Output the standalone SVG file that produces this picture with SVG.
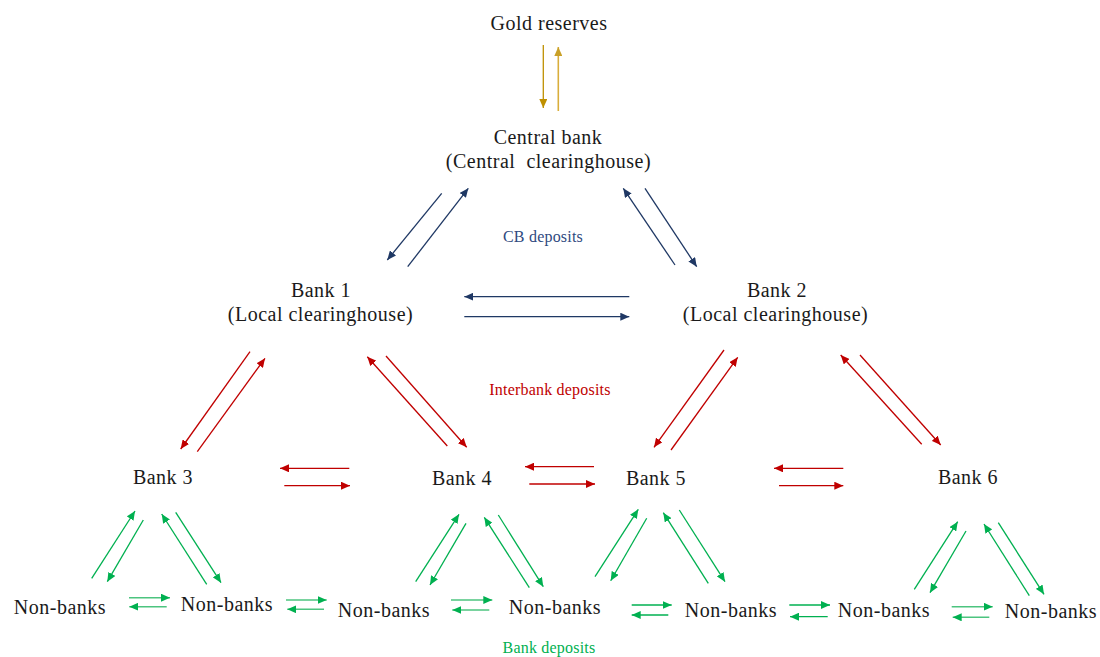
<svg xmlns="http://www.w3.org/2000/svg" width="1100" height="657" viewBox="0 0 1100 657">
<style>
.lbl{font-family:"Liberation Serif","Times New Roman",serif;font-size:20px;fill:#1a1a1a;text-anchor:middle;letter-spacing:0.5px;white-space:pre}
.sm{font-family:"Liberation Serif","Times New Roman",serif;font-size:16px;text-anchor:middle;letter-spacing:0.2px}
.n{stroke:#1F3864;stroke-width:1.3;fill:none;marker-end:url(#an)}
.r{stroke:#C00000;stroke-width:1.3;fill:none;marker-end:url(#ar)}
.g{stroke:#00B050;stroke-width:1.3;fill:none;marker-end:url(#ag)}
.gl{stroke:#4CC47F;stroke-width:1.6;fill:none;marker-end:url(#ag)}
.au{stroke:#BF9000;stroke-width:1.3;fill:none;marker-end:url(#aud)}
.au2{stroke:#D9AE3C;stroke-width:1.6;fill:none;marker-end:url(#au2)}
</style>
<defs>
<marker id="an" markerUnits="userSpaceOnUse" markerWidth="10" markerHeight="8" refX="9" refY="4" orient="auto"><path d="M0,0 L9,4 L0,8 z" fill="#1F3864"/></marker>
<marker id="ar" markerUnits="userSpaceOnUse" markerWidth="10" markerHeight="8" refX="9" refY="4" orient="auto"><path d="M0,0 L9,4 L0,8 z" fill="#C00000"/></marker>
<marker id="ag" markerUnits="userSpaceOnUse" markerWidth="10" markerHeight="8" refX="9" refY="4" orient="auto"><path d="M0,0 L9,4 L0,8 z" fill="#00B050"/></marker>
<marker id="aud" markerUnits="userSpaceOnUse" markerWidth="10" markerHeight="8" refX="9" refY="4" orient="auto"><path d="M0,0 L9,4 L0,8 z" fill="#BF9000"/></marker>
<marker id="au2" markerUnits="userSpaceOnUse" markerWidth="10" markerHeight="8" refX="9" refY="4" orient="auto"><path d="M0,0 L9,4 L0,8 z" fill="#C9A027"/></marker>
</defs>
<rect width="1100" height="657" fill="#ffffff"/>

<g id="connectors">
  <!-- gold -->
  <line class="au" x1="543.3" y1="45" x2="543.3" y2="108"/>
  <line class="au2" x1="558.3" y1="111" x2="558.3" y2="47"/>
  <!-- CB deposits -->
  <line class="n" x1="441.7" y1="193.3" x2="387.3" y2="260"/>
  <line class="n" x1="407.7" y1="266.7" x2="468.3" y2="188.3"/>
  <line class="n" x1="675" y1="265" x2="623.3" y2="188.3"/>
  <line class="n" x1="645" y1="188.3" x2="696.7" y2="266.7"/>
  <line class="n" x1="629.3" y1="296.7" x2="464.3" y2="296.7"/>
  <line class="n" x1="464.3" y1="316.7" x2="629.3" y2="316.7"/>
  <!-- interbank -->
  <line class="r" x1="250" y1="351.7" x2="180.7" y2="449"/>
  <line class="r" x1="197.3" y1="451.7" x2="265" y2="358.3"/>
  <line class="r" x1="447.3" y1="446" x2="367.3" y2="356.7"/>
  <line class="r" x1="386" y1="356" x2="466.7" y2="447.3"/>
  <line class="r" x1="724" y1="350" x2="654" y2="447.3"/>
  <line class="r" x1="671" y1="450" x2="737.7" y2="357.3"/>
  <line class="r" x1="921.7" y1="444.3" x2="840.7" y2="355"/>
  <line class="r" x1="860" y1="355" x2="940.7" y2="445"/>
  <line class="r" x1="349.3" y1="468.3" x2="280" y2="468.3"/>
  <line class="r" x1="284.3" y1="485.7" x2="350" y2="485.7"/>
  <line class="r" x1="594" y1="466.7" x2="525" y2="466.7"/>
  <line class="r" x1="529.3" y1="484" x2="595" y2="484"/>
  <line class="r" x1="843.3" y1="468.3" x2="774" y2="468.3"/>
  <line class="r" x1="779" y1="485.7" x2="843.3" y2="485.7"/>
  <!-- bank deposits: bank 3 -->
  <line class="g" x1="91.7" y1="578.3" x2="135" y2="511"/>
  <line class="g" x1="143.3" y1="520" x2="107.3" y2="581.7"/>
  <line class="g" x1="206.7" y1="584.3" x2="161.7" y2="514"/>
  <line class="g" x1="175.7" y1="512.3" x2="221" y2="582.7"/>
  <!-- bank 4 -->
  <line class="g" x1="415.7" y1="581.7" x2="459" y2="514.3"/>
  <line class="g" x1="466" y1="523.3" x2="430" y2="585"/>
  <line class="g" x1="529.3" y1="587.7" x2="484.3" y2="517.3"/>
  <line class="g" x1="498.3" y1="515" x2="543.3" y2="586.7"/>
  <!-- bank 5 -->
  <line class="g" x1="595" y1="576.7" x2="638.3" y2="509.3"/>
  <line class="g" x1="646.7" y1="518.3" x2="610.7" y2="580.7"/>
  <line class="g" x1="708.3" y1="583.3" x2="663.3" y2="512.7"/>
  <line class="g" x1="679.3" y1="510" x2="725" y2="581.7"/>
  <!-- bank 6 -->
  <line class="g" x1="914.3" y1="589.3" x2="957.7" y2="521.7"/>
  <line class="g" x1="966" y1="531" x2="930" y2="592.7"/>
  <line class="g" x1="1029.3" y1="595.7" x2="984" y2="524"/>
  <line class="g" x1="998.3" y1="522.7" x2="1044" y2="594.3"/>
  <!-- non-bank horizontals -->
  <line class="gl" x1="129" y1="597.7" x2="170" y2="597.7"/>
  <line class="gl" x1="166.7" y1="606.7" x2="129.3" y2="606.7"/>
  <line class="gl" x1="286" y1="600" x2="326.7" y2="600"/>
  <line class="gl" x1="324" y1="609.3" x2="287.3" y2="609.3"/>
  <line class="gl" x1="451" y1="600" x2="492.3" y2="600"/>
  <line class="gl" x1="489.3" y1="610" x2="452.3" y2="610"/>
  <line class="g" x1="631.7" y1="605" x2="671.7" y2="605"/>
  <line class="g" x1="668.3" y1="615" x2="631.7" y2="615"/>
  <line class="g" x1="789.3" y1="605" x2="830" y2="605"/>
  <line class="g" x1="827.7" y1="616.7" x2="790" y2="616.7"/>
  <line class="gl" x1="951.7" y1="606.7" x2="992.7" y2="606.7"/>
  <line class="gl" x1="989.3" y1="617.3" x2="952.7" y2="617.3"/>
</g>

<g id="gold"><text class="lbl" x="549" y="30">Gold reserves</text></g>
<g id="central-bank">
  <text class="lbl" x="548" y="144">Central bank</text>
  <text class="lbl" x="548.5" y="168" xml:space="preserve">(Central  clearinghouse)</text>
</g>
<g id="bank1">
  <text class="lbl" x="321" y="297">Bank 1</text>
  <text class="lbl" x="320.5" y="321">(Local clearinghouse)</text>
</g>
<g id="bank2">
  <text class="lbl" x="777" y="297">Bank 2</text>
  <text class="lbl" x="775.5" y="321">(Local clearinghouse)</text>
</g>
<g id="bank3"><text class="lbl" x="163" y="484">Bank 3</text></g>
<g id="bank4"><text class="lbl" x="462" y="485">Bank 4</text></g>
<g id="bank5"><text class="lbl" x="656" y="485">Bank 5</text></g>
<g id="bank6"><text class="lbl" x="968" y="484">Bank 6</text></g>
<g id="nb1"><text class="lbl" x="60" y="614">Non-banks</text></g>
<g id="nb2"><text class="lbl" x="227" y="611">Non-banks</text></g>
<g id="nb3"><text class="lbl" x="384" y="617">Non-banks</text></g>
<g id="nb4"><text class="lbl" x="555" y="614">Non-banks</text></g>
<g id="nb5"><text class="lbl" x="731" y="617">Non-banks</text></g>
<g id="nb6"><text class="lbl" x="884" y="617">Non-banks</text></g>
<g id="nb7"><text class="lbl" x="1051" y="618">Non-banks</text></g>

<g id="labels">
  <text class="sm" x="543" y="242" fill="#2F4A80">CB deposits</text>
  <text class="sm" x="550" y="395" fill="#C00000">Interbank deposits</text>
  <text class="sm" x="549" y="653" fill="#00B050">Bank deposits</text>
</g>
</svg>
